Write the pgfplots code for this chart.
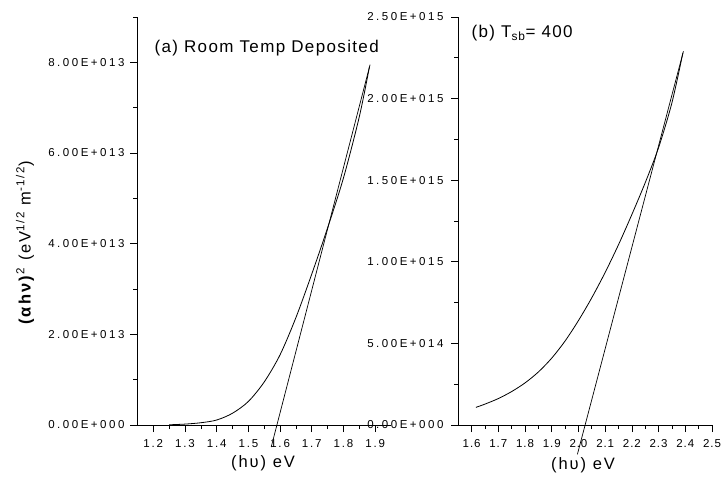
\documentclass[border=0pt]{standalone}
\usepackage{fontspec}
\setmainfont{Liberation Sans}
\usepackage{pgfplots}
\pgfplotsset{compat=1.18}
\begin{document}
\begin{tikzpicture}[x=1pt,y=1pt]
\path[use as bounding box] (0,0) rectangle (721,483);
\pgfplotsset{
  myax/.style={
    scale only axis,
    anchor=south west,
    axis x line*=bottom,
    axis y line*=left,
    tick align=outside,
    major tick length=7pt,
    minor tick length=4pt,
    every tick/.style={black, line width=0.7pt},
    axis line style={line width=0.8pt},
    clip=false,
    scaled y ticks=false,
    yticklabel style={font=\fontsize{11.5}{12}\selectfont\addfontfeature{LetterSpace=22}, xshift=-2pt},
    xticklabel style={font=\fontsize{11.5}{12}\selectfont\addfontfeature{LetterSpace=16}, yshift=-4pt},
  },
}
% ---------- (a) ----------
\begin{axis}[myax,
  at={(137pt,58pt)}, width=254pt, height=408pt,
  xmin=1.1485, xmax=1.95, ymin=0, ymax=9e13,
  xtick={1.2,1.3,1.4,1.5,1.6,1.7,1.8,1.9},
  xticklabels={1.2,1.3,1.4,1.5,1.6,1.7,1.8,1.9},
  minor xtick={1.25,1.35,1.45,1.55,1.65,1.75,1.85},
  ytick={0,2e13,4e13,6e13,8e13},
  yticklabels={0.00E+000,2.00E+013,4.00E+013,6.00E+013,8.00E+013},
  minor ytick={1e13,3e13,5e13,7e13,9e13},
]
\addplot[black, line width=0.8pt, smooth] coordinates {
(1.250,0.005e13) (1.300,0.02e13) (1.350,0.05e13) (1.400,0.11e13) (1.450,0.26e13)
(1.500,0.52e13) (1.550,0.95e13) (1.600,1.55e13) (1.650,2.37e13) (1.700,3.33e13)
(1.750,4.35e13) (1.800,5.45e13) (1.850,6.80e13) (1.882,7.90e13)};
\addplot[black, line width=0.7pt] coordinates {(1.572,-0.486e13) (1.884,7.95e13)};
\end{axis}
% ---------- (b) ----------
\begin{axis}[myax,
  at={(458pt,58pt)}, width=254pt, height=408pt,
  xmin=1.549, xmax=2.5, ymin=0, ymax=2.5e15,
  xtick={1.6,1.7,1.8,1.9,2.0,2.1,2.2,2.3,2.4,2.5},
  xticklabels={1.6,1.7,1.8,1.9,2.0,2.1,2.2,2.3,2.4,2.5},
  minor xtick={1.65,1.75,1.85,1.95,2.05,2.15,2.25,2.35,2.45},
  ytick={0,5e14,1e15,1.5e15,2e15,2.5e15},
  yticklabels={0.00E+000,5.00E+014,1.00E+015,1.50E+015,2.00E+015,2.50E+015},
  minor ytick={2.5e14,7.5e14,1.25e15,1.75e15,2.25e15},
  xticklabel style={font=\fontsize{11.5}{12}\selectfont\addfontfeature{LetterSpace=8}},
  yticklabel style={xshift=-2pt},
]
\addplot[black, line width=0.8pt, smooth] coordinates {
(1.616,0.108e15) (1.65,0.128e15) (1.70,0.162e15) (1.75,0.205e15) (1.80,0.258e15)
(1.85,0.325e15) (1.90,0.41e15) (1.95,0.515e15) (2.00,0.64e15) (2.05,0.78e15)
(2.10,0.935e15) (2.15,1.105e15) (2.20,1.29e15) (2.25,1.485e15) (2.30,1.70e15)
(2.35,1.975e15) (2.391,2.28e15)};
\addplot[black, line width=0.7pt] coordinates {(1.996,-0.18e15) (2.393,2.29e15)};
\end{axis}
% ---------- labels ----------
\node[font=\fontsize{16.5}{18}\selectfont\addfontfeature{LetterSpace=12}] at (263,20) {(hυ) eV};
\node[font=\fontsize{16.5}{18}\selectfont\addfontfeature{LetterSpace=12}] at (583,18) {(hυ) eV};
\node[anchor=west, font=\fontsize{17}{18}\selectfont\addfontfeature{LetterSpace=8}] at (151,435) {(a) Room Temp Deposited};
\node[anchor=west, font=\fontsize{17}{18}\selectfont\addfontfeature{LetterSpace=8}] at (468,450) {(b) T\textsubscript{sb}= 400};
\node[rotate=90, font=\fontsize{16.5}{18}\selectfont\addfontfeature{LetterSpace=12}] at (25,240) {\textbf{(αhν)}\textsuperscript{2} (eV\textsuperscript{1/2} m\textsuperscript{-1/2})};
\end{tikzpicture}
\end{document}
